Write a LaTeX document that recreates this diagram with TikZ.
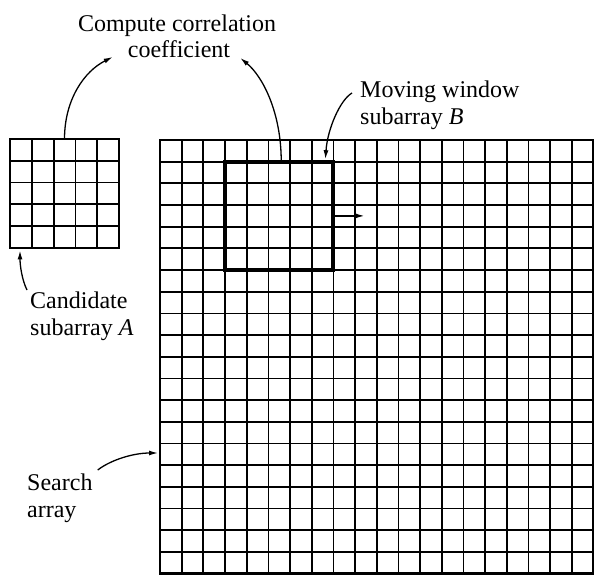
\documentclass[tikz,border=0pt]{standalone}
\usepackage{fontspec}
\setmainfont{Liberation Serif}
\usetikzlibrary{arrows.meta,calc}
\begin{document}
\begin{tikzpicture}[x=1pt,y=-1pt,
  gridline/.style={line width=1.8pt},
  frame/.style={draw, line width=2.8pt, inner sep=0pt, outer sep=0pt, anchor=north west},
  window/.style={draw, line width=4pt, inner sep=0pt, outer sep=0pt, anchor=north west},
  lbl/.style={font=\fontsize{24}{27}\selectfont, inner sep=0pt},
  conn/.style={line width=1.3pt, -{Latex[length=9pt,width=5pt]}}]
\useasboundingbox (0,0) rectangle (594,577);
% search array 20x20
\def\cs{21.68}
\foreach \i in {1,...,19} {
  \draw[gridline] (160+\i*\cs,140) -- (160+\i*\cs,140+20*\cs);
  \draw[gridline] (160,140+\i*\cs) -- (160+20*\cs,140+\i*\cs);
}
\node[frame, minimum width=433.6pt, minimum height=433.6pt] (S) at (160,140) {};
% candidate subarray A 5x5
\foreach \i in {1,...,4} {
  \draw[gridline] (10+\i*21.8,139) -- (10+\i*21.8,248);
  \draw[gridline] (10,139+\i*21.8) -- (119,139+\i*21.8);
}
\node[frame, minimum width=109pt, minimum height=109pt] (A) at (10,139) {};
% moving window B
\node[window, minimum width=5*\cs pt, minimum height=5*\cs pt] (B) at (160+3*\cs,140+\cs) {};
% labels
\node[lbl, anchor=base] (cc1) at (177,32) {Compute correlation};
\node[lbl, anchor=base] (cc2) at (179,58) {coefficient};
\node[lbl, anchor=base west] (mw1) at (360,98) {Moving window};
\node[lbl, anchor=base west] (mw2) at (360,125) {subarray \textit{B}};
\node[lbl, anchor=base west] (ca1) at (30,308) {Candidate};
\node[lbl, anchor=base west] (ca2) at (30,335) {subarray \textit{A}};
\node[lbl, anchor=base west] (sa1) at (27,490) {Search};
\node[lbl, anchor=base west] (sa2) at (27,517) {array};
% connector end points
\coordinate (t1) at ($(cc2.base west)+(-15,-1)$);
\coordinate (t2) at ($(cc2.base east)+(10,0)$);
\coordinate (m0) at ($(mw1.base west)+(-8,-5)$);
\coordinate (bt) at ($(B.north east)+(-8,-2.5)$);
\coordinate (c0) at ($(ca1.base west)+(-3,-18)$);
\coordinate (at) at ($(A.south west)+(10,2.5)$);
\coordinate (s0) at ($(sa1.base east)+(5,-20)$);
\coordinate (st) at ($(S.north west)+(-2,313)$);
\coordinate (bm) at ($(B.east)+(31,0)$);
% connectors
\draw[conn] (A.north) .. controls +(0,-40) and +(-28,14) .. (t1);
\draw[conn] ([xshift=2pt]B.north) .. controls +(0,-50) and +(22,18) .. (t2);
\draw[conn] (m0) .. controls +(-12,7) and +(2,-30) .. (bt);
\draw[conn] (c0) .. controls +(-5,-10) and +(0,15) .. (at);
\draw[conn] (s0) .. controls +(13,-10) and +(-25,0) .. (st);
\draw[conn] (B.east) -- (bm);
\end{tikzpicture}
\end{document}
